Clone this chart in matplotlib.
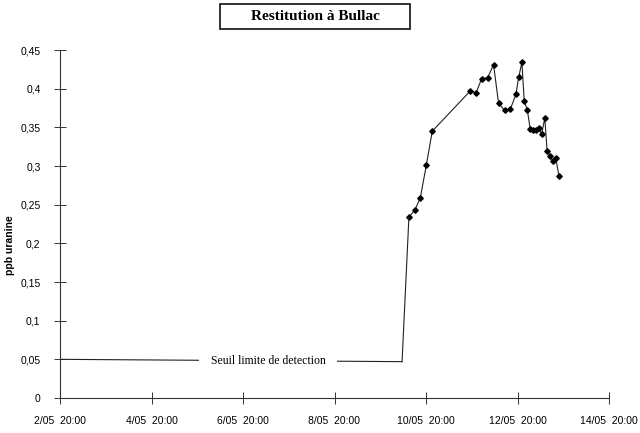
import numpy as np
import matplotlib
matplotlib.use("Agg")
import matplotlib.pyplot as plt
from matplotlib.patches import Rectangle

# time in days of May (day + hour/24), values in ppb
seuil_t = [2 + 20/24, 10.31]
seuil_v = [0.05, 0.047]

t = [10.31, 10.46, 10.59, 10.71, 10.84, 10.97, 11.80, 11.93, 12.05, 12.18,
     12.31, 12.42, 12.55, 12.68, 12.80, 12.86, 12.93, 12.98, 13.05, 13.11,
     13.17, 13.23, 13.30, 13.36, 13.43, 13.48, 13.54, 13.61, 13.67, 13.74]
v = [0.047, 0.234, 0.243, 0.259, 0.301, 0.345, 0.397, 0.395, 0.413, 0.414,
     0.431, 0.381, 0.372, 0.374, 0.393, 0.415, 0.434, 0.384, 0.372, 0.348,
     0.346, 0.347, 0.349, 0.341, 0.362, 0.320, 0.313, 0.306, 0.310, 0.287]

yticks = [0, 0.05, 0.1, 0.15, 0.2, 0.25, 0.3, 0.35, 0.4, 0.45]
ylabels = ['0', '0,05', '0,1', '0,15', '0,2', '0,25', '0,3', '0,35', '0,4', '0,45']
xticks = [2, 4, 6, 8, 10, 12, 14]
xlabels = ['%d/05  20:00' % d for d in xticks]

fig = plt.figure(figsize=(6.4, 4.33), dpi=100)
ax = fig.add_axes([60/640, 1-398/433, (609-60)/640, (398-50)/433])

ax.plot(seuil_t, seuil_v, '-', color='#222222', lw=0.8)
ax.plot(t[1:], v[1:], '-', color='#222222', lw=0.8, marker='D', ms=2.8,
        mfc='black', mec='black')
ax.plot(t[:2], v[:2], '-', color='#222222', lw=0.8)

ax.text(7.38, 0.048, 'Seuil limite de detection', family='Liberation Serif',
        fontsize=8.5, ha='center', va='center',
        bbox=dict(facecolor='white', edgecolor='none', pad=8))

ax.set_xlim(2 + 20/24, 14 + 20/24)
ax.set_ylim(0, 0.45)
ax.set_yticks(yticks)
ax.set_yticklabels(ylabels, family='Liberation Sans', fontsize=7.5)
ax.set_xticks([d + 20/24 for d in xticks])
ax.set_xticklabels(xlabels, family='Liberation Sans', fontsize=7.5)
ax.tick_params(direction='inout', length=8, width=0.7, color='#333333')
ax.tick_params(axis='x', pad=9)
ax.tick_params(axis='y', pad=10)
for s in ['top', 'right']:
    ax.spines[s].set_visible(False)
for s in ['left', 'bottom']:
    ax.spines[s].set_linewidth(0.8)
    ax.spines[s].set_color('#333333')

ax.set_ylabel('ppb uranine', family='Liberation Sans', fontweight='bold',
              fontsize=7.5)
ax.yaxis.set_label_coords(-0.082, 0.44)

fig.patches.append(Rectangle((220/640, 1-29/433), 190/640, 25/433,
                             transform=fig.transFigure, facecolor='white',
                             edgecolor='#222222', lw=1.3))
fig.text(315/640, 1-16/433, 'Restitution à Bullac', family='Liberation Serif',
         fontweight='bold', fontsize=11, ha='center', va='center')

fig.savefig('out.png', dpi=100, facecolor='white')
